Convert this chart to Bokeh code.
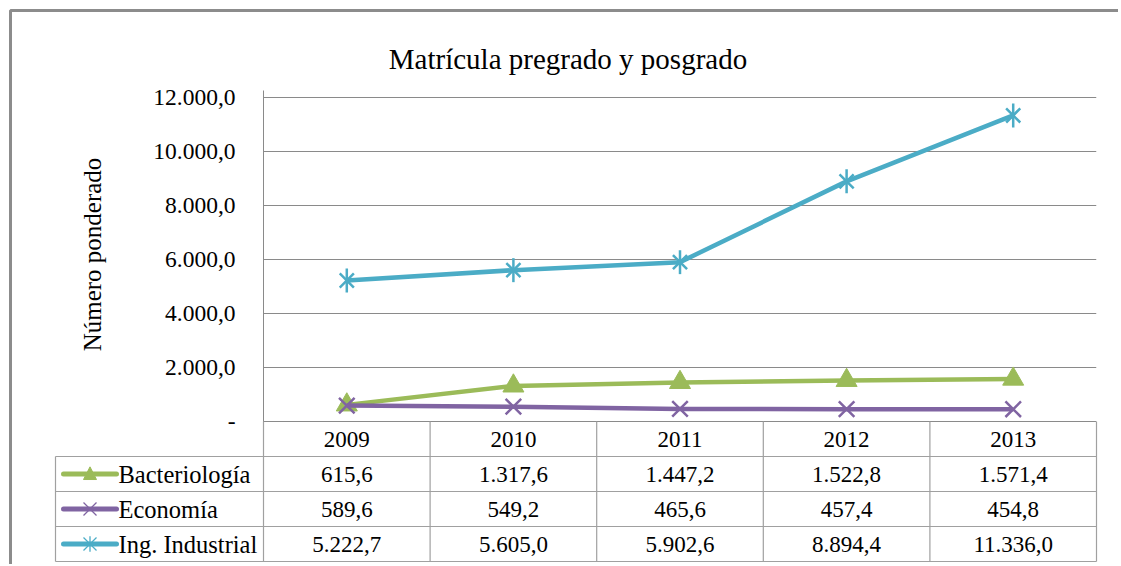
import math
from bokeh.plotting import figure
from bokeh.models import Range1d, FixedTicker
from bokeh.core.properties import value
from bokeh.embed import file_html
from bokeh.resources import INLINE

# ---------------- data ----------------
years = ["2009", "2010", "2011", "2012", "2013"]
bacteriologia = [615.6, 1317.6, 1447.2, 1522.8, 1571.4]
economia = [589.6, 549.2, 465.6, 457.4, 454.8]
ing_industrial = [5222.7, 5605.0, 5902.6, 8894.4, 11336.0]
series_names = ["Bacteriología", "Economía", "Ing. Industrial"]
y_ticks = [0, 2000, 4000, 6000, 8000, 10000, 12000]
title_text = "Matrícula pregrado y posgrado"
y_label_text = "Número ponderado"

# ---------------- styles ----------------
GREEN, PURPLE, BLUE = "#9BBB59", "#8064A2", "#4BACC6"
GRID = "#8A8A8A"
TABLE = "#A0A0A0"
FONT = "Liberation Serif"
FS = "23px"


def fmt(v):
    s = f"{v:,.1f}"
    return s.replace(",", "#").replace(".", ",").replace("#", ".")


# ---------------- geometry (page pixels) ----------------
W, H = 1118, 564
FL, FR = 263, 1096          # frame left / right
FT, FB = 90, 561            # frame top / bottom
Y0, Y12 = 421, 97           # y pixel of 0 and 12000
KY = 12000.0 / (Y0 - Y12)   # data units per pixel
ROW = (FB - Y0) / 4.0       # table row height
NCAT = len(years)
PX = NCAT / (FR - FL)       # x data units per pixel


def dx(px):
    return (px - FL) * PX - 0.5


def dy(py):
    return (Y0 - py) * KY


def dt(py):
    return (Y0 - py) / ROW


p = figure(width=W, height=H, output_backend="svg", toolbar_location=None,
           x_range=Range1d(-0.5, NCAT - 0.5),
           y_range=Range1d(dy(FB), dy(FT)),
           min_border_left=FL, min_border_right=W - FR,
           min_border_top=FT, min_border_bottom=H - FB)
p.extra_y_ranges = {"tbl": Range1d(dt(FB), dt(FT))}
p.outline_line_color = None
p.background_fill_color = "white"
p.border_fill_color = "white"
p.xaxis.visible = False

# y axis
ax = p.yaxis[0]
ax.ticker = FixedTicker(ticks=y_ticks)
ax.major_label_overrides = {t: (fmt(t) if t else "-") for t in y_ticks}
ax.axis_line_color = GRID
ax.axis_line_width = 1
ax.major_tick_line_color = None
ax.minor_tick_line_color = None
ax.major_label_standoff = 22
ax.major_label_text_font = FONT
ax.major_label_text_font_size = "23.5px"
ax.major_label_text_color = "black"

p.xgrid.visible = False
p.ygrid.ticker = FixedTicker(ticks=y_ticks)
p.ygrid.grid_line_color = GRID
p.ygrid.grid_line_width = 1

xs = list(range(NCAT))

# series
p.line(xs, bacteriologia, line_color=GREEN, line_width=4.5)
p.scatter(xs, bacteriologia, marker="triangle", size=21, fill_color=GREEN, line_color=GREEN)
p.line(xs, economia, line_color=PURPLE, line_width=4.5)
p.scatter(xs, economia, marker="x", size=22, line_color=PURPLE, line_width=2.5)
p.line(xs, ing_industrial, line_color=BLUE, line_width=4.5)
p.scatter(xs, ing_industrial, marker="x", size=20, line_color=BLUE, line_width=2.5)
p.scatter(xs, ing_industrial, marker="dash", angle=math.pi / 2, size=24,
          line_color=BLUE, line_width=2.5)

# ---------------- data table ----------------
left = dx(55)
p.segment(x0=[left] * 4, y0=[-1, -2, -3, -4], x1=[NCAT - 0.5] * 4, y1=[-1, -2, -3, -4],
          y_range_name="tbl", line_color=TABLE, line_width=1.2, level="overlay")
vx = [i - 0.5 for i in range(NCAT + 1)]
p.segment(x0=vx, y0=[0] * len(vx), x1=vx, y1=[-4] * len(vx),
          y_range_name="tbl", line_color=TABLE, line_width=1.2, level="overlay")
p.segment(x0=[left], y0=[-1], x1=[left], y1=[-4],
          y_range_name="tbl", line_color=TABLE, line_width=1.2, level="overlay")

p.text(x=xs, y=[-0.5] * NCAT, text=years, y_range_name="tbl",
       text_align="center", text_baseline="middle",
       text_font=value(FONT), text_font_size=FS, text_color="black")

series = [bacteriologia, economia, ing_industrial]
colors = [GREEN, PURPLE, BLUE]
markers = ["triangle", "x", "asterisk"]
kx = dx(89.5)
r_px = 6.5  # legend marker half size in pixels
for r, (vals, col, mk, name) in enumerate(zip(series, colors, markers, series_names)):
    yr = -(r + 1.5)
    p.text(x=xs, y=[yr] * NCAT, text=[fmt(v) for v in vals], y_range_name="tbl",
           text_align="center", text_baseline="middle",
           text_font=value(FONT), text_font_size=FS, text_color="black")
    # legend key line
    p.segment(x0=[dx(63)], y0=[yr], x1=[dx(116)], y1=[yr], y_range_name="tbl",
              line_color=col, line_width=5, line_cap="round", level="overlay")
    hx, hy = r_px * PX, r_px / ROW
    if mk == "triangle":
        p.patch([kx - hx, kx, kx + hx], [yr - hy * 0.85, yr + hy * 1.1, yr - hy * 0.85],
                fill_color=col, line_color=col, y_range_name="tbl", level="overlay")
    else:
        sx0 = [kx - hx, kx - hx]
        sy0 = [yr - hy, yr + hy]
        sx1 = [kx + hx, kx + hx]
        sy1 = [yr + hy, yr - hy]
        if mk == "asterisk":
            sx0.append(kx)
            sy0.append(yr - hy * 1.2)
            sx1.append(kx)
            sy1.append(yr + hy * 1.2)
        p.segment(x0=sx0, y0=sy0, x1=sx1, y1=sy1, line_color=col, line_width=1.3,
                  y_range_name="tbl", level="overlay")
    p.text(x=[dx(118)], y=[yr], text=[name], y_range_name="tbl",
           text_align="left", text_baseline="middle",
           text_font=value(FONT), text_font_size="24.5px", text_color="black",
           level="overlay")

# outer chart border
p.line([dx(10), dx(10), dx(1300)], [dy(900), dy(10), dy(10)],
       line_color="#8C8C8C", line_width=3, level="overlay")

# title and y-axis label
p.text(x=[dx(567.5)], y=[dy(58)], text=[title_text], text_align="center",
       text_baseline="alphabetic", text_font=value(FONT), text_font_size="29px",
       text_color="black", level="overlay")
p.text(x=[dx(92)], y=[dy(254)], text=[y_label_text], angle=math.pi / 2,
       text_align="center", text_baseline="middle", text_font=value(FONT),
       text_font_size="25px", text_color="black", level="overlay")

open("out.html", "w").write(file_html(p, INLINE))
